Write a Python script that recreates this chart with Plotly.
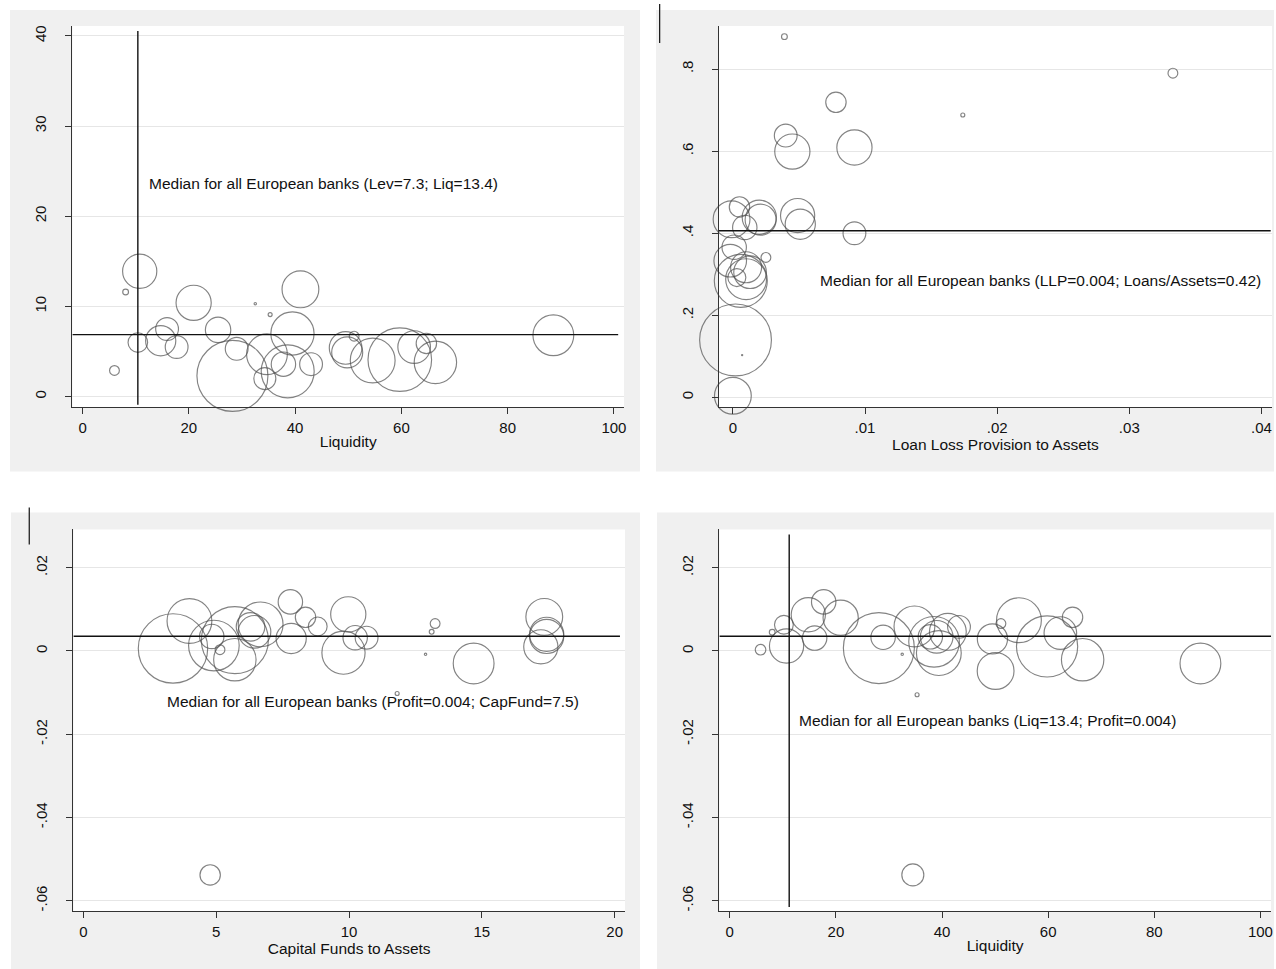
import plotly.graph_objects as go

W, H = 1276, 969
FONT = "Liberation Sans, Arial, sans-serif"

# ---------------- Panel 1: Liquidity vs Leverage ----------------
p1_liq = [10.75, 8.1, 6.0, 10.4, 14.7, 15.9, 17.7, 20.9, 25.5, 29.0, 28.2, 32.5, 35.3, 34.7,
          34.3, 39.5, 37.8, 41.0, 38.6, 43.0, 49.5, 49.8, 51.1, 54.6, 59.7, 62.4, 64.7, 66.4, 88.6]
p1_lev = [13.9, 11.6, 2.9, 6.0, 6.2, 7.5, 5.5, 10.4, 7.4, 5.3, 2.3, 10.3, 9.1, 4.7,
          2.0, 7.0, 3.6, 11.9, 2.8, 3.6, 5.4, 4.9, 6.7, 4.0, 4.1, 5.5, 5.9, 3.8, 6.8]
p1_r = [17.1, 2.9, 4.9, 9.8, 15.1, 11.4, 11.4, 17.6, 12.7, 11.4, 35.5, 1.2, 2.0, 20.4,
        11.0, 21.6, 12.2, 18.4, 26.5, 11.4, 16.3, 15.5, 4.9, 22.4, 31.8, 16.3, 10.2, 21.2, 20.4]

# ---------------- Panel 2: LLP vs Loans/Assets ----------------
p2_llp = [0.0039, 0.0333, 0.0078, 0.0174, 0.0040, 0.0045, 0.0092, 0.0005, -0.0001, 0.0009,
          0.0020, 0.0021, 0.0049, 0.0051, 0.0092, 0.0001, -0.0002, 0.0025, 0.0010, 0.0003,
          0.0010, 0.0006, 0.0013, 0.0002, 0.0007, 0.0000]
p2_loans = [0.879, 0.790, 0.719, 0.688, 0.638, 0.599, 0.609, 0.464, 0.434, 0.414,
            0.439, 0.433, 0.443, 0.422, 0.400, 0.366, 0.333, 0.341, 0.317, 0.292,
            0.288, 0.284, 0.305, 0.140, 0.103, 0.004]
p2_r = [2.9, 4.9, 10.2, 2.0, 11.4, 17.6, 17.6, 10.2, 18.4, 12.2,
        17.1, 15.5, 17.1, 15.1, 11.4, 12.2, 16.3, 4.9, 15.5, 9.0,
        20.4, 26.5, 16.3, 35.9, 0.6, 18.4]

# ---------------- Panel 3: Capital funds vs Profit ----------------
p3_cap = [3.37, 3.99, 4.83, 4.91, 5.14, 5.70, 5.70, 6.29, 6.44, 6.67, 7.79, 7.82, 8.36, 8.82,
          9.97, 9.79, 10.23, 10.66, 11.81, 12.88, 13.11, 13.24, 14.69, 17.22, 17.35, 17.44,
          17.44, 4.77]
p3_profit = [0.0006, 0.0072, 0.0035, 0.0013, 0.0003, -0.0021, 0.0026, 0.0058, 0.0046, 0.0064,
             0.0118, 0.0030, 0.0081, 0.0059, 0.0088, -0.0004, 0.0032, 0.0032, -0.0102, -0.0008,
             0.0046, 0.0066, -0.0030, 0.0010, 0.0082, 0.0040, 0.0035, -0.0538]
p3_r = [34.7, 22.4, 12.2, 25.3, 4.9, 21.2, 33.5, 14.3, 16.3, 22.4, 12.2, 15.1, 10.2, 9.4,
        17.6, 21.6, 12.2, 11.4, 2.0, 1.2, 2.4, 4.9, 20.4, 17.1, 18.4, 17.1, 17.1, 10.2]

# ---------------- Panel 4: Liquidity vs Profit ----------------
p4_liq = [5.8, 8.0, 10.2, 10.7, 14.8, 16.0, 17.7, 20.9, 28.1, 28.9, 32.5, 34.8, 35.3, 37.8,
          38.5, 39.0, 39.4, 41.1, 43.2, 49.5, 50.1, 51.1, 54.5, 59.8, 62.3, 64.6, 66.5, 88.7, 34.5]
p4_profit = [0.0003, 0.0045, 0.0063, 0.0012, 0.0087, 0.0031, 0.0118, 0.0080, 0.0007, 0.0033,
             -0.0008, 0.0059, -0.0105, 0.0034, 0.0022, 0.0034, -0.0005, 0.0046, 0.0058, 0.0029,
             -0.0048, 0.0066, 0.0074, 0.0011, 0.0043, 0.0081, -0.0021, -0.0030, -0.0538]
p4_r = [5.3, 2.9, 9.4, 17.1, 17.1, 12.2, 12.2, 17.6, 35.5, 12.2, 1.2, 20.4, 2.0, 12.2,
        25.3, 16.3, 22.4, 18.4, 11.4, 15.1, 18.4, 4.9, 22.4, 30.6, 16.3, 10.2, 21.2, 20.4, 11.0]

# median reference lines (as drawn) and labels
med_hline = [6.87, 0.406, 0.00353, 0.00353]
med_vline = [10.4, None, None, 11.2]
med_text = [
    "Median for all European banks (Lev=7.3; Liq=13.4)",
    "Median for all European banks (LLP=0.004; Loans/Assets=0.42)",
    "Median for all European banks (Profit=0.004; CapFund=7.5)",
    "Median for all European banks (Liq=13.4; Profit=0.004)",
]
text_pos = [(12.1, 23.6), (0.00647, 0.286), (3.07, -0.01224), (12.7, -0.0168)]

x_titles = ["Liquidity", "Loan Loss Provision to Assets", "Capital Funds to Assets", "Liquidity"]
x_ticks = [[0, 20, 40, 60, 80, 100], [0, 0.01, 0.02, 0.03, 0.04], [0, 5, 10, 15, 20], [0, 20, 40, 60, 80, 100]]
x_ticktext = [["0", "20", "40", "60", "80", "100"], ["0", ".01", ".02", ".03", ".04"],
              ["0", "5", "10", "15", "20"], ["0", "20", "40", "60", "80", "100"]]
y_ticks = [[0, 10, 20, 30, 40], [0, 0.2, 0.4, 0.6, 0.8], [-0.06, -0.04, -0.02, 0, 0.02], [-0.06, -0.04, -0.02, 0, 0.02]]
y_ticktext = [["0", "10", "20", "30", "40"], ["0", ".2", ".4", ".6", ".8"],
              ["-.06", "-.04", "-.02", "0", ".02"], ["-.06", "-.04", "-.02", "0", ".02"]]
x_ranges = [[-1.92, 101.9], [-0.00106, 0.0408], [-0.38, 20.39], [-1.96, 102.0]]
y_ranges = [[-1.16, 41.1], [-0.0236, 0.905], [-0.06248, 0.0292], [-0.06248, 0.0292]]
hline_x = [[-1.92, 100.8], [-0.00106, 0.0407], [-0.38, 20.2], [-1.96, 102.0]]
vline_y = [[-0.89, 40.55], None, None, [-0.0615, 0.028]]

# pixel layout (plot areas and grey panels)
plot_px = [(72.5, 625, 25, 406.5), (720, 1274, 25, 406.5), (73.5, 626, 529, 911), (720.5, 1273, 529, 911)]
panel_px = [(10, 641, 9, 471), (657, 1276, 9, 471), (11, 641, 512, 969), (658, 1276, 512, 969)]

xs = [p1_liq, p2_llp, p3_cap, p4_liq]
ys = [p1_lev, p2_loans, p3_profit, p4_profit]
rs = [p1_r, p2_r, p3_r, p4_r]

fig = go.Figure()
shapes = []
annotations = []
layout = {}

for (x0, x1, y0, y1) in panel_px:
    shapes.append(dict(type="rect", xref="paper", yref="paper",
                       x0=x0 / W, x1=x1 / W, y0=1 - y1 / H, y1=1 - y0 / H,
                       fillcolor="#f0f0f0", line=dict(width=0), layer="below"))

for i in range(4):
    n = "" if i == 0 else str(i + 1)
    xa, ya = "x" + n, "y" + n
    px0, px1, py0, py1 = plot_px[i]
    # white plot region
    shapes.append(dict(type="rect", xref=xa + " domain", yref=ya + " domain", x0=0, x1=1, y0=0, y1=1,
                       fillcolor="white", line=dict(width=0), layer="below"))
    fig.add_trace(go.Scatter(
        x=xs[i], y=ys[i], mode="markers", xaxis=xa, yaxis=ya, showlegend=False,
        cliponaxis=False, hoverinfo="skip",
        marker=dict(size=[r * r for r in rs[i]], sizemode="area", sizeref=0.5,
                    color="rgba(0,0,0,0)", line=dict(color="#4f4f4f", width=1.15)),
    ))
    fig.add_trace(go.Scatter(
        x=hline_x[i], y=[med_hline[i], med_hline[i]], mode="lines", xaxis=xa, yaxis=ya,
        showlegend=False, cliponaxis=False, hoverinfo="skip",
        line=dict(color="#111111", width=1.4)))
    if med_vline[i] is not None:
        fig.add_trace(go.Scatter(
            x=[med_vline[i], med_vline[i]], y=vline_y[i], mode="lines", xaxis=xa, yaxis=ya,
            showlegend=False, cliponaxis=False, hoverinfo="skip",
            line=dict(color="#111111", width=1.4)))
    annotations.append(dict(x=text_pos[i][0], y=text_pos[i][1], xref=xa, yref=ya,
                            text=med_text[i], showarrow=False, xanchor="left", yanchor="middle",
                            font=dict(size=15.5, color="#111111", family=FONT)))
    layout["xaxis" + n] = dict(
        domain=[px0 / W, px1 / W], anchor=ya, range=x_ranges[i],
        tickvals=x_ticks[i], ticktext=x_ticktext[i], ticks="outside", ticklen=6, tickwidth=1,
        tickcolor="#333333", showline=True, linecolor="#333333", linewidth=1.3,
        showgrid=False, zeroline=False, ticklabelstandoff=1,
        tickfont=dict(size=15, color="#111111", family=FONT),
        title=dict(text=x_titles[i], standoff=0, font=dict(size=15.5, color="#111111", family=FONT)),
    )
    layout["yaxis" + n] = dict(
        domain=[1 - py1 / H, 1 - py0 / H], anchor=xa, range=y_ranges[i],
        tickvals=y_ticks[i], ticktext=y_ticktext[i], ticks="outside", ticklen=6, tickwidth=1,
        tickcolor="#333333", showline=True, linecolor="#333333", linewidth=1.3,
        showgrid=True, gridcolor="#e6e6e6", gridwidth=1, zeroline=False,
        tickangle=-90, ticklabelstandoff=13,
        tickfont=dict(size=15, color="#111111", family=FONT),
    )

# small stray rule segments visible in the original image
shapes.append(dict(type="line", xref="paper", yref="paper", x0=660.7 / W, x1=660.7 / W,
                   y0=1 - 42 / H, y1=1 - 3 / H, line=dict(color="#111111", width=1.2)))
shapes.append(dict(type="line", xref="paper", yref="paper", x0=29.3 / W, x1=29.3 / W,
                   y0=1 - 544 / H, y1=1 - 507 / H, line=dict(color="#111111", width=1.2)))

fig.update_layout(
    width=W, height=H, margin=dict(l=0, r=0, t=0, b=0),
    paper_bgcolor="white", plot_bgcolor="white",
    shapes=shapes, annotations=annotations,
    font=dict(family=FONT, color="#111111"),
    **layout,
)

fig.write_html("out.html", config={"displayModeBar": False},
               post_script="document.body.style.margin='0';document.body.style.overflow='hidden';")
